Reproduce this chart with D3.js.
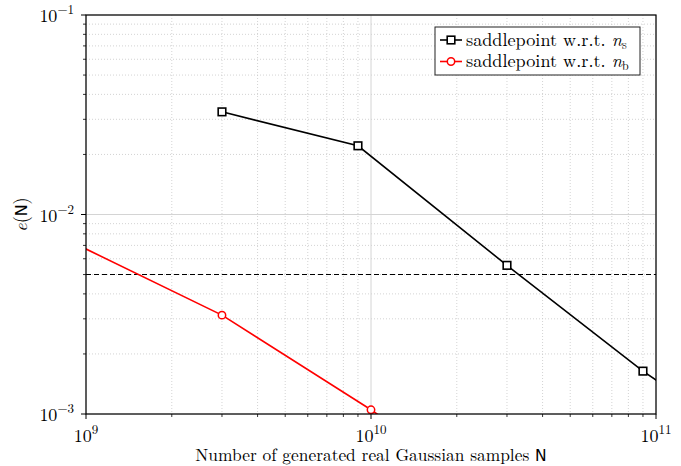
<!DOCTYPE html>
<html><head><meta charset="utf-8">
<script src="https://cdn.jsdelivr.net/npm/d3@7"></script>
<style>body{margin:0;background:#fff}svg{display:block}</style>
</head><body><svg id="c" width="681" height="466"></svg>
<script>
const blackX = [3e9, 9e9, 3e10, 9e10, 2.7e11];
const blackY = [0.0327, 0.0221, 0.00556, 0.00164, 0.00057];
const redX = [3e8, 3e9, 1e10, 3e10];
const redY = [0.0155, 0.00313, 0.00105, 0.00035];
const threshold = 0.005;
const xTicks = [1e9, 1e10, 1e11];
const yTicks = [1e-3, 1e-2, 1e-1];
const xTickExp = ["9", "10", "11"];
const yTickExp = ["\u22123", "\u22122", "\u22121"];
const legendLabels = [["saddlepoint w.r.t. ", "n", "s"], ["saddlepoint w.r.t. ", "n", "b"]];

const svg = d3.select("#c");
const L = 86, R = 656, T = 15, B = 414;
const x = d3.scaleLog().domain([1e9, 1e11]).range([L, R]);
const y = d3.scaleLog().domain([1e-3, 1e-1]).range([B, T]);
const serif = "'Latin Modern Roman','CMU Serif','Liberation Serif','DejaVu Serif',serif";
const sans = "'DejaVu Sans','Liberation Sans',sans-serif";

const minorX = [], minorY = [];
for (let e = 9; e < 11; e++) for (let m = 2; m <= 9; m++) minorX.push(m * Math.pow(10, e));
for (let e = -3; e < -1; e++) for (let m = 2; m <= 9; m++) minorY.push(m * Math.pow(10, e));

const g = svg.append("g");
g.selectAll(".mgx").data(minorX).enter().append("line")
  .attr("x1", d => x(d)).attr("x2", d => x(d)).attr("y1", T).attr("y2", B)
  .attr("stroke", "#c8c8c8").attr("stroke-width", 0.8).attr("stroke-dasharray", "1,2");
g.selectAll(".mgy").data(minorY).enter().append("line")
  .attr("y1", d => y(d)).attr("y2", d => y(d)).attr("x1", L).attr("x2", R)
  .attr("stroke", "#c8c8c8").attr("stroke-width", 0.8).attr("stroke-dasharray", "1,2");
g.selectAll(".gx").data(xTicks).enter().append("line")
  .attr("x1", d => x(d)).attr("x2", d => x(d)).attr("y1", T).attr("y2", B)
  .attr("stroke", "#d4d4d4").attr("stroke-width", 1);
g.selectAll(".gy").data(yTicks).enter().append("line")
  .attr("y1", d => y(d)).attr("y2", d => y(d)).attr("x1", L).attr("x2", R)
  .attr("stroke", "#d4d4d4").attr("stroke-width", 1);

svg.append("defs").append("clipPath").attr("id", "clip")
  .append("rect").attr("x", L).attr("y", T).attr("width", R - L).attr("height", B - T);
const pg = svg.append("g").attr("clip-path", "url(#clip)");

pg.append("line").attr("x1", L).attr("x2", R).attr("y1", y(threshold)).attr("y2", y(threshold))
  .attr("stroke", "#000").attr("stroke-width", 1.1).attr("stroke-dasharray", "5,3");

const line = d3.line().x(d => x(d[0])).y(d => y(d[1]));
const bData = blackX.map((v, i) => [v, blackY[i]]);
const rData = redX.map((v, i) => [v, redY[i]]);
pg.append("path").datum(bData).attr("d", line).attr("fill", "none").attr("stroke", "#000").attr("stroke-width", 1.6);
pg.append("path").datum(rData).attr("d", line).attr("fill", "none").attr("stroke", "#f00").attr("stroke-width", 1.6);
pg.selectAll(".sq").data(bData).enter().append("rect")
  .attr("x", d => x(d[0]) - 3.8).attr("y", d => y(d[1]) - 3.8).attr("width", 7.6).attr("height", 7.6)
  .attr("fill", "#fff").attr("stroke", "#000").attr("stroke-width", 1.6);
pg.selectAll(".ci").data(rData).enter().append("circle")
  .attr("cx", d => x(d[0])).attr("cy", d => y(d[1])).attr("r", 3.7)
  .attr("fill", "#fff").attr("stroke", "#f00").attr("stroke-width", 1.5);

svg.append("rect").attr("x", L).attr("y", T).attr("width", R - L).attr("height", B - T)
  .attr("fill", "none").attr("stroke", "#000").attr("stroke-width", 1.2);

const ax = svg.append("g");
ax.selectAll(".tx").data(xTicks).enter().append("line")
  .attr("x1", d => x(d)).attr("x2", d => x(d)).attr("y1", B).attr("y2", B + 5).attr("stroke", "#000").attr("stroke-width", 1);
ax.selectAll(".mtx").data(minorX).enter().append("line")
  .attr("x1", d => x(d)).attr("x2", d => x(d)).attr("y1", B).attr("y2", B + 3).attr("stroke", "#000").attr("stroke-width", 0.8);
ax.selectAll(".ty").data(yTicks).enter().append("line")
  .attr("y1", d => y(d)).attr("y2", d => y(d)).attr("x1", L).attr("x2", L - 5).attr("stroke", "#000").attr("stroke-width", 1);
ax.selectAll(".mty").data(minorY).enter().append("line")
  .attr("y1", d => y(d)).attr("y2", d => y(d)).attr("x1", L).attr("x2", L - 3).attr("stroke", "#000").attr("stroke-width", 0.8);

xTicks.forEach((v, i) => {
  const t = ax.append("text").attr("x", x(v)).attr("y", B + 28).attr("text-anchor", "middle")
    .attr("font-family", serif).attr("font-size", 18).attr("fill", "#000");
  t.append("tspan").text("10");
  t.append("tspan").attr("dy", -8).attr("font-size", 13).text(xTickExp[i]);
});
yTicks.forEach((v, i) => {
  const t = ax.append("text").attr("x", L - 12).attr("y", y(v) + 7).attr("text-anchor", "end")
    .attr("font-family", serif).attr("font-size", 18).attr("fill", "#000");
  t.append("tspan").text("10");
  t.append("tspan").attr("dy", -8).attr("font-size", 13).text(yTickExp[i]);
});

const xl = svg.append("text").attr("x", 371).attr("y", 461).attr("text-anchor", "middle")
  .attr("font-family", serif).attr("font-size", 17.4).attr("fill", "#000");
xl.append("tspan").text("Number of generated real Gaussian samples ");
xl.append("tspan").attr("font-family", sans).attr("font-size", 15.5).text("N");

const yl = svg.append("text").attr("transform", `translate(27,${(T + B) / 2}) rotate(-90)`).attr("text-anchor", "middle")
  .attr("font-family", serif).attr("font-size", 18).attr("fill", "#000");
yl.append("tspan").attr("font-style", "italic").text("e");
yl.append("tspan").text("(");
yl.append("tspan").attr("font-family", sans).attr("font-size", 16).text("N");
yl.append("tspan").text(")");

const lg = svg.append("g");
lg.append("rect").attr("x", 435).attr("y", 27).attr("width", 205).attr("height", 48)
  .attr("fill", "#fff").attr("stroke", "#222").attr("stroke-width", 1);
const colors = ["#000", "#f00"];
legendLabels.forEach((lab, i) => {
  const cy = 40 + i * 21.5;
  lg.append("line").attr("x1", 440).attr("x2", 462).attr("y1", cy).attr("y2", cy).attr("stroke", colors[i]).attr("stroke-width", 1.6);
  if (i === 0) lg.append("rect").attr("x", 447.2).attr("y", cy - 3.8).attr("width", 7.6).attr("height", 7.6)
    .attr("fill", "#fff").attr("stroke", "#000").attr("stroke-width", 1.6);
  else lg.append("circle").attr("cx", 451).attr("cy", cy).attr("r", 3.7)
    .attr("fill", "#fff").attr("stroke", "#f00").attr("stroke-width", 1.5);
  const t = lg.append("text").attr("x", 466).attr("y", cy + 5.5).attr("font-family", serif).attr("font-size", 18.2).attr("fill", "#000");
  t.append("tspan").text(lab[0]);
  t.append("tspan").attr("font-style", "italic").text(lab[1]);
  t.append("tspan").attr("dy", 3).attr("font-size", 12).text(lab[2]);
});
</script></body></html>
